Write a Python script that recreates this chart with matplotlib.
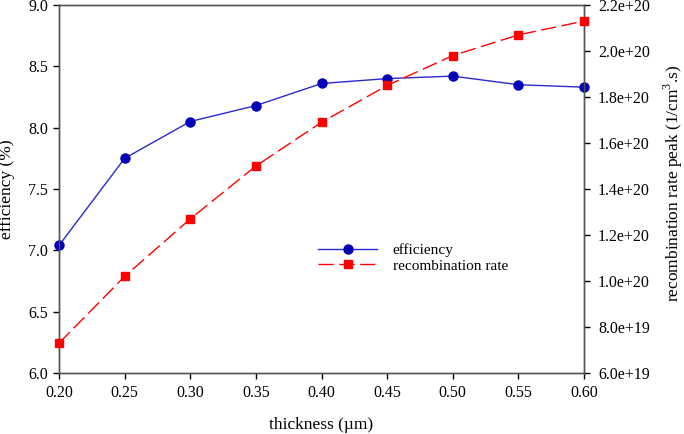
import numpy as np
import matplotlib.pyplot as plt
import matplotlib

matplotlib.rcParams['font.family'] = 'Liberation Serif'
matplotlib.rcParams['mathtext.fontset'] = 'custom'
matplotlib.rcParams['mathtext.rm'] = 'Liberation Serif'

thickness = [0.20, 0.25, 0.30, 0.35, 0.40, 0.45, 0.50, 0.55, 0.60]
efficiency = [7.04, 7.75, 8.05, 8.18, 8.36, 8.40, 8.42, 8.35, 8.33]
recomb = [7.3e19, 1.02e20, 1.27e20, 1.50e20, 1.69e20, 1.85e20, 1.98e20, 2.07e20, 2.13e20]

fig = plt.figure(figsize=(6.84, 4.34), dpi=100)
ax = fig.add_axes([0.0863, 0.1406, 0.7675, 0.8479])
ax2 = ax.twinx()

l1, = ax.plot(thickness, efficiency, c='#2a2ad0', lw=1, marker='o', ms=6.5,
              mfc='#0000b4', mec='#0000b4', label='efficiency', clip_on=False, zorder=5)
l2, = ax2.plot(thickness, recomb, c='red', lw=1, ls=(0, (11, 4)), marker='s', ms=6,
               mfc='red', mec='red', label='recombination rate', clip_on=False, zorder=5)

ax.set_xlim(0.2, 0.6)
ax.set_ylim(6.0, 9.0)
ax2.set_ylim(6e19, 2.2e20)
ax.set_xticks(thickness)
ax.set_xticklabels(['%.2f' % t for t in thickness])
yt = np.arange(6.0, 9.01, 0.5)
ax.set_yticks(yt)
ax.set_yticklabels(['%.1f' % v for v in yt])
rt = np.arange(6e19, 2.21e20, 2e19)
ax2.set_yticks(rt)
ax2.set_yticklabels(['%.1e' % v for v in rt])

for a in (ax, ax2):
    a.tick_params(direction='out', length=4, width=1, labelsize=11.5, colors='black')
    for s in a.spines.values():
        s.set_color('#555555')
        s.set_linewidth(1)
ax.tick_params(axis='x', pad=5)
ax.tick_params(axis='y', pad=4)
ax2.tick_params(axis='y', pad=6)

ax.set_xlabel('thickness (\u00b5m)', fontsize=12.5)
ax.xaxis.set_label_coords(0.5, -0.12)
ax.set_ylabel('efficiency (%)', fontsize=12.5)
ax.yaxis.set_label_coords(-0.084, 0.5)
ax2.set_ylabel('recombination rate peak (1/cm$^{3}$.s)', fontsize=12.5)
ax2.yaxis.set_label_coords(1.148, 0.515)

ax.legend([l1, l2], ['efficiency', 'recombination rate'], loc='upper left',
          bbox_to_anchor=(0.493, 0.352), frameon=False, fontsize=11,
          handlelength=3.9, handletextpad=1.0, labelspacing=0.12,
          borderpad=0, borderaxespad=0)

plt.savefig('out.png', dpi=100)
